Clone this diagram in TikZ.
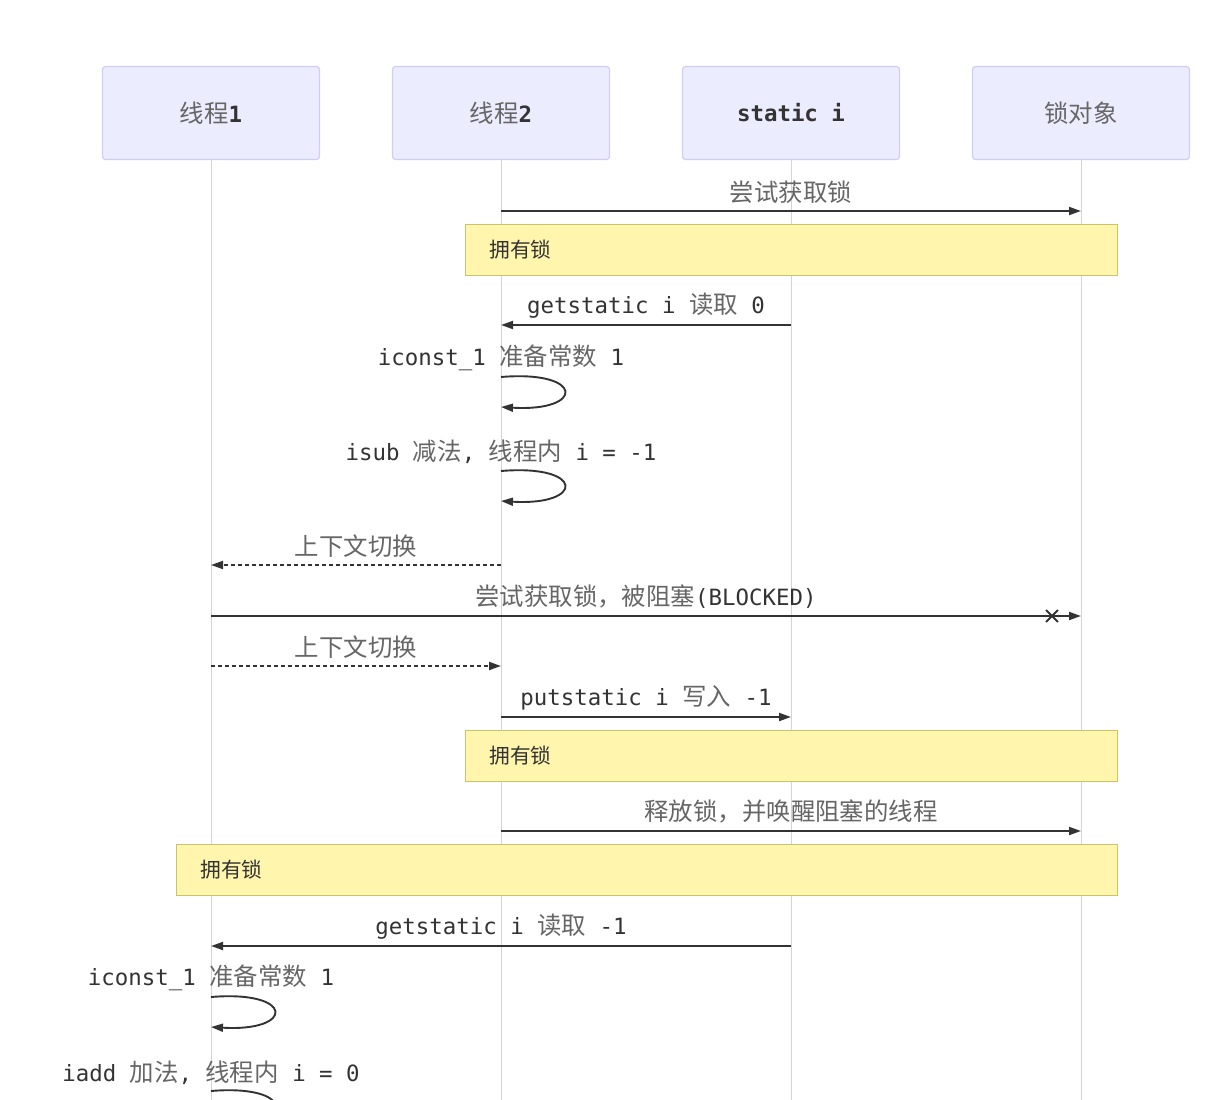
\documentclass[tikz,border=0pt]{standalone}
\usepackage{fontspec}
\setmonofont{DejaVu Sans Mono}
\newfontfamily\cjk[Scale=1.09]{Noto Sans CJK SC}
\usepackage{tikz}
\usetikzlibrary{arrows.meta,shapes.misc}
\definecolor{actorfill}{HTML}{ECECFF}
\definecolor{actorline}{HTML}{D2CDF7}
\definecolor{notefill}{HTML}{FFF5AD}
\definecolor{noteline}{HTML}{C9C36A}
\definecolor{lifegray}{HTML}{D4D4D4}
\definecolor{msggray}{HTML}{333333}
\definecolor{zhtext}{HTML}{666666}
\newcommand{\zh}[1]{{\cjk\color{zhtext}#1}}
\tikzset{
	actor/.style = {draw=actorline, fill=actorfill, rounded corners=3pt, line width=1.2pt,
		minimum width=217pt, minimum height=93pt, font=\fontsize{22.4}{26}\ttfamily, text=msggray},
	note/.style = {draw=noteline, fill=notefill, line width=1pt, anchor=north west,
		minimum height=51pt, inner xsep=24pt, text width=#1, align=left,
		font=\fontsize{19}{24}\cjk, text=msggray},
	life/.style = {draw=lifegray, line width=1pt},
	msg/.style = {draw=msggray, line width=1.9pt, -{Triangle[length=12pt,width=8pt]}},
	switch/.style = {msg, dash pattern=on 4pt off 3pt},
	lbl/.style = {inner sep=0pt, font=\fontsize{22.4}{26}\ttfamily, text=msggray},
}

\begin{document}
\begin{tikzpicture}[x=1pt, y=-1pt]
	\fill[white] (0,0) rectangle (1216,1100);
	\useasboundingbox (0,0) rectangle (1216,1100);
	\clip (0,0) rectangle (1216,1100);

	% participants
	\node[actor] (t1) at (211,113) {\zh{线程}\textbf{1}};
	\node[actor] (t2) at (501,113) {\zh{线程}\textbf{2}};
	\node[actor] (si) at (791,113) {\textbf{static i}};
	\node[actor] (lk) at (1081,113) {\zh{锁对象}};

	\draw[life] (t1.south) -- (t1 |- 0,1100);
	\draw[life] (t2.south) -- (t2 |- 0,1100);
	\draw[life] (si.south) -- (si |- 0,1100);
	\draw[life] (lk.south) -- (lk |- 0,1100);

	% thread 2 takes the lock
	\draw[msg] (t2 |- 0,211) -- node[lbl, midway, above=7pt]{\zh{尝试获取锁}} (lk |- 0,211);
	\node[note=604pt] (n1) at (465,224) {拥有锁};
	\draw[msg] (si |- 0,325) -- node[lbl, midway, above=6pt]{getstatic i \zh{读取} 0} (t2 |- 0,325);

	\node[lbl] (l1) at (501,358) {iconst\_1 \zh{准备常数} 1};
	\draw[msg] (t2 |- 0,377) .. controls +(84,-7) and +(84,5) .. (t2 |- 0,407);
	\node[lbl] (l2) at (501,452) {isub \zh{减法}, \zh{线程内} i = -1};
	\draw[msg] (t2 |- 0,471) .. controls +(84,-7) and +(84,5) .. (t2 |- 0,501);

	% context switch
	\draw[switch] (t2 |- 0,565) -- node[lbl, midway, above=7pt]{\zh{上下文切换}} (t1 |- 0,565);
	\draw[msg] (t1 |- 0,616) -- node[lbl, midway, above=7pt]{\zh{尝试获取锁，被阻塞}(BLOCKED)} (lk |- 0,616);
	\node[draw=msggray, cross out, line width=1.8pt, minimum size=10pt, inner sep=0pt] (x1) at (1052,616) {};
	\draw[switch] (t1 |- 0,666) -- node[lbl, midway, above=7pt]{\zh{上下文切换}} (t2 |- 0,666);

	\draw[msg] (t2 |- 0,717) -- node[lbl, midway, above=6pt]{putstatic i \zh{写入} -1} (si |- 0,717);
	\node[note=604pt] (n2) at (465,730) {拥有锁};
	\draw[msg] (t2 |- 0,831) -- node[lbl, midway, above=7pt]{\zh{释放锁，并唤醒阻塞的线程}} (lk |- 0,831);

	% thread 1 takes the lock
	\node[note=893pt] (n3) at (176,844) {拥有锁};
	\draw[msg] (si |- 0,946) -- node[lbl, midway, above=6pt]{getstatic i \zh{读取} -1} (t1 |- 0,946);

	\node[lbl] (l3) at (211,978) {iconst\_1 \zh{准备常数} 1};
	\draw[msg] (t1 |- 0,997) .. controls +(84,-7) and +(84,5) .. (t1 |- 0,1027);
	\node[lbl] (l4) at (211,1073) {iadd \zh{加法}, \zh{线程内} i = 0};
	\draw[msg] (t1 |- 0,1091) .. controls +(84,-7) and +(84,5) .. (t1 |- 0,1121);
\end{tikzpicture}
\end{document}
